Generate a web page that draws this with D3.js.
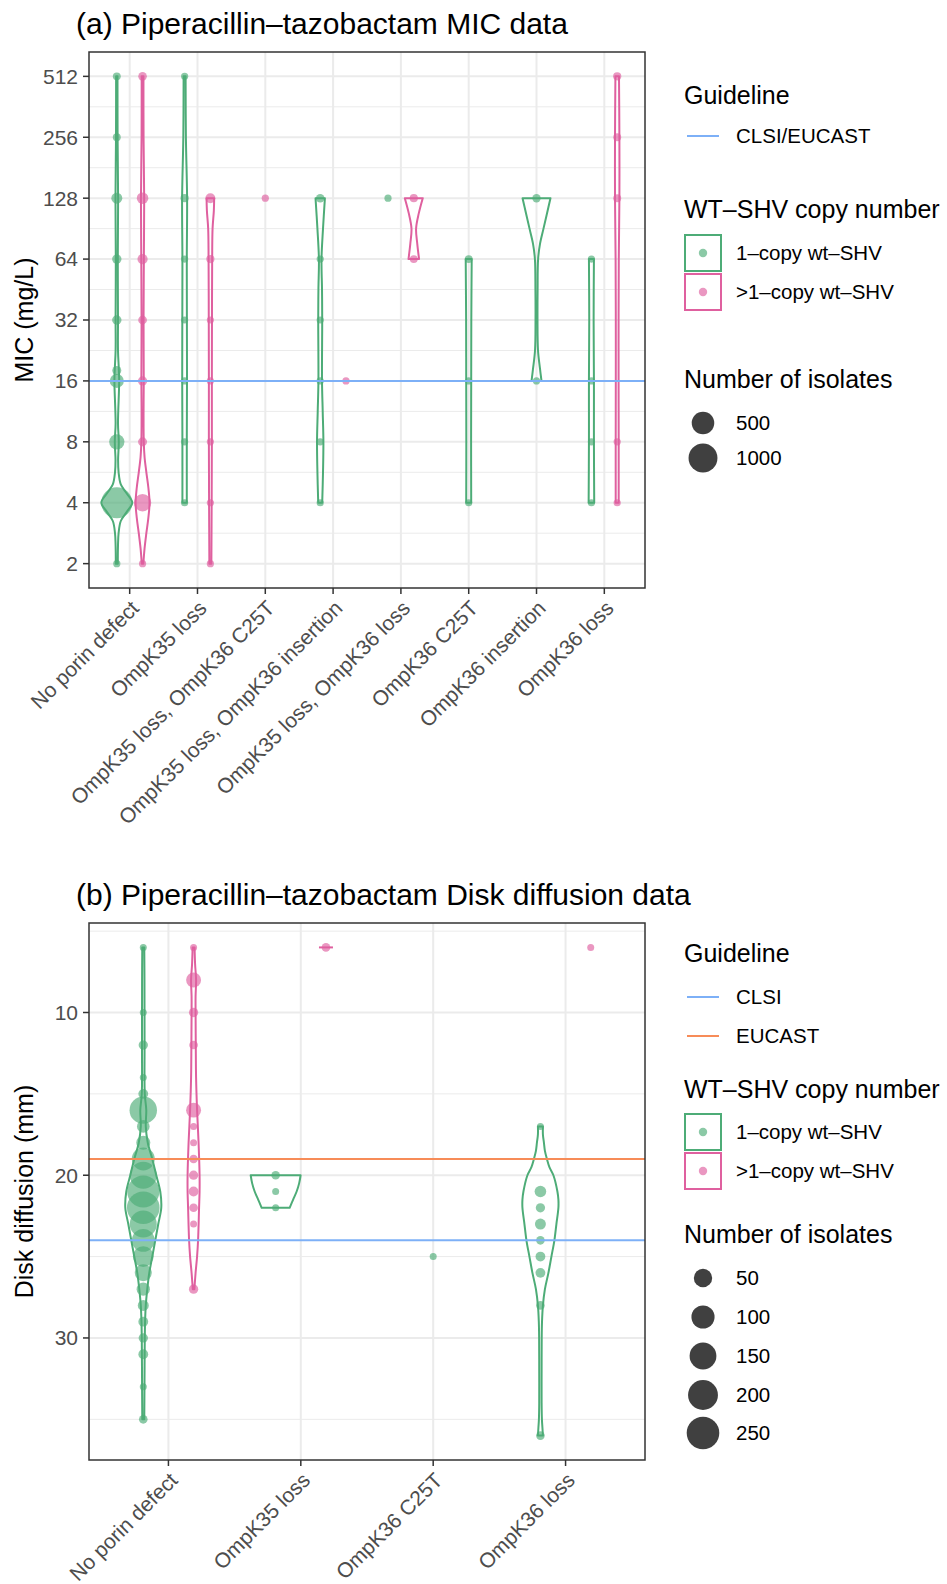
<!DOCTYPE html>
<html>
<head>
<meta charset="utf-8">
<script src="https://cdn.jsdelivr.net/npm/d3@7"></script>
<style>
  body { margin: 0; background: #fff; }
  svg { display: block; font-family: "Liberation Sans", Arial, Helvetica, sans-serif; }
</style>
</head>
<body>
<svg id="chart" width="947" height="1584"></svg>
<script>
'use strict';

// ---------- (a) MIC data ----------
var micCategories = ['No porin defect', 'OmpK35 loss', 'OmpK35 loss, OmpK36 C25T',
  'OmpK35 loss, OmpK36 insertion', 'OmpK35 loss, OmpK36 loss', 'OmpK36 C25T',
  'OmpK36 insertion', 'OmpK36 loss'];
var micTicks = [2, 4, 8, 16, 32, 64, 128, 256, 512];
var micGuidelines = [{ name: 'CLSI/EUCAST', value: 16 }];
var micSizeBreaks = [500, 1000];

// [category index, MIC (mg/L), number of isolates]
var micOneCopy = [
  [0, 2, 1], [0, 4, 1200], [0, 8, 140], [0, 16, 100], [0, 18, 8], [0, 32, 11], [0, 64, 11], [0, 128, 31], [0, 256, 2], [0, 512, 2],
  [1, 4, 1], [1, 8, 1], [1, 16, 1], [1, 32, 1], [1, 64, 1], [1, 128, 3], [1, 512, 1],
  [3, 4, 1], [3, 8, 1], [3, 16, 1], [3, 32, 1], [3, 64, 1], [3, 128, 5],
  [4, 128, 1],
  [5, 4, 1], [5, 16, 1], [5, 64, 2],
  [6, 16, 1], [6, 128, 4],
  [7, 4, 1], [7, 8, 1], [7, 16, 1], [7, 64, 1]
];
var micMultiCopy = [
  [0, 2, 1], [0, 4, 220], [0, 8, 8], [0, 16, 10], [0, 32, 6], [0, 64, 20], [0, 128, 40], [0, 512, 5],
  [1, 2, 1], [1, 4, 1], [1, 8, 1], [1, 16, 1], [1, 32, 1], [1, 64, 3], [1, 128, 17],
  [2, 128, 1],
  [3, 16, 1],
  [4, 64, 2], [4, 128, 3],
  [7, 4, 1], [7, 8, 1], [7, 128, 2], [7, 256, 2], [7, 512, 3]
];

// violin outlines: [log2 MIC, density]
var micViolins = [
  { cat: 0, grp: 'one', dens: [[1, 1], [1.3, 1.2], [1.5, 1.8], [1.7, 4], [1.85, 10], [2, 15.5], [2.15, 10], [2.3, 4], [2.5, 1.8],
    [2.7, 1.3], [3, 2], [3.3, 1.2], [4, 2.4], [4.2, 2], [4.5, 1.2], [5, 1.2], [6, 1], [7, 1.3], [8, 0.8], [9, 0.7]] },
  { cat: 0, grp: 'multi', dens: [[1, 0.8], [1.25, 2], [1.5, 3.8], [1.75, 5.8], [2, 7], [2.25, 5.8], [2.5, 3.8], [2.75, 2],
    [3, 1.2], [3.5, 1], [4, 1.2], [5, 1], [6, 1.3], [7, 1.6], [8, 1], [9, 0.9]] },
  { cat: 1, grp: 'one', dens: [[2, 2.2], [3, 2.2], [4, 2.4], [5, 2.3], [6, 2.2], [7, 2.5], [8, 1.3], [9, 1]] },
  { cat: 1, grp: 'multi', dens: [[1, 1], [2, 1.3], [3, 1.5], [4, 1.5], [5, 1.6], [6, 1.8], [6.5, 2.2], [6.8, 3.5], [7, 3.8]] },
  { cat: 3, grp: 'one', dens: [[2, 2], [2.5, 2.8], [3, 3.2], [3.5, 2.5], [4, 1.8], [5, 2], [5.5, 1.8], [6, 1.3], [6.5, 2.8], [7, 4.7]] },
  { cat: 4, grp: 'multi', dens: [[6, 5.3], [6.25, 3.5], [6.5, 2.3], [6.75, 5], [7, 9]] },
  { cat: 5, grp: 'one', dens: [[2, 2.5], [3, 2.4], [4, 2.5], [5, 2.6], [6, 3]] },
  { cat: 6, grp: 'one', dens: [[4, 5], [4.2, 3.5], [4.5, 1.5], [5, 1], [5.5, 1.1], [6, 1.6], [6.25, 3.5], [6.5, 7], [6.75, 10.5], [7, 14]] },
  { cat: 7, grp: 'one', dens: [[2, 2.8], [3, 2.5], [4, 2.5], [5, 2.2], [6, 2.5]] },
  { cat: 7, grp: 'multi', dens: [[2, 1.5], [3, 1.5], [4, 1.4], [5, 1.4], [6, 1.6], [7, 2.2], [8, 2.2], [9, 1.8]] }
];

// ---------- (b) Disk diffusion data ----------
var diskCategories = ['No porin defect', 'OmpK35 loss', 'OmpK36 C25T', 'OmpK36 loss'];
var diskTicks = [10, 20, 30];
var diskGuidelines = [{ name: 'CLSI', value: 24 }, { name: 'EUCAST', value: 19 }];
var diskSizeBreaks = [50, 100, 150, 200, 250];

// [category index, zone diameter (mm), number of isolates]
var diskOneCopy = [
  [0, 6, 1], [0, 10, 1], [0, 12, 3], [0, 14, 1], [0, 15, 4], [0, 16, 160], [0, 17, 13], [0, 18, 20], [0, 19, 97],
  [0, 20, 153], [0, 21, 240], [0, 22, 250], [0, 23, 153], [0, 24, 96], [0, 25, 73], [0, 26, 39], [0, 27, 16],
  [0, 28, 7], [0, 29, 4], [0, 30, 3], [0, 31, 4], [0, 33, 1], [0, 35, 2],
  [1, 20, 2], [1, 21, 1], [1, 22, 1],
  [2, 25, 1],
  [3, 17, 1], [3, 21, 9], [3, 22, 3], [3, 23, 7], [3, 24, 2], [3, 25, 4], [3, 26, 4], [3, 28, 2], [3, 36, 2]
];
var diskMultiCopy = [
  [0, 6, 1], [0, 8, 25], [0, 10, 3], [0, 12, 2], [0, 16, 25], [0, 17, 1], [0, 18, 1], [0, 19, 2], [0, 20, 3],
  [0, 21, 4], [0, 22, 2], [0, 23, 1], [0, 27, 3],
  [1, 6, 2],
  [3, 6, 1]
];

// violin outlines: [mm, density]
var diskViolins = [
  { cat: 0, grp: 'one', dens: [[6, 1], [8, 1.2], [12, 1.3], [15, 1.5], [16, 3], [17, 2.5], [18, 4.5], [19, 9], [20, 13], [21, 17],
    [22, 18], [23, 15], [24, 12], [25, 9], [26, 6], [27, 4], [28, 2.5], [29, 1.8], [30, 1.5], [33, 1.2], [35, 1]] },
  { cat: 0, grp: 'multi', dens: [[6, 1], [7, 1.5], [8, 2.5], [9, 2], [10, 2], [12, 2.2], [14, 2.5], [16, 3.5], [18, 5], [20, 6],
    [21, 6], [22, 5.5], [24, 4.5], [25, 3.5], [26, 2], [27, 0.8]] },
  { cat: 1, grp: 'one', dens: [[20, 25], [20.5, 23.5], [21, 21], [21.5, 17.5], [22, 14]] },
  { cat: 1, grp: 'multi', dens: [[6, 7]] },
  { cat: 3, grp: 'one', dens: [[17, 2.5], [17.5, 2.5], [18, 3.5], [18.5, 4.5], [19, 6.5], [19.5, 9], [20, 13], [21, 17], [21.5, 18],
    [22, 18], [23, 16], [24, 14], [25, 11], [26, 8], [27, 4.5], [28, 2.5], [29, 1.6], [30, 1.3], [32, 1.2], [34, 1.2],
    [35, 1.5], [35.5, 2], [36, 2.5]] }
];

var groups = [
  { key: 'one', label: '1\u2013copy wt\u2013SHV', color: '#4DAC77' },
  { key: 'multi', label: '>1\u2013copy wt\u2013SHV', color: '#DF609F' }
];
var guideColors = { 'CLSI/EUCAST': '#7DB0F7', 'CLSI': '#7DB0F7', 'EUCAST': '#F78C58' };

var svg = d3.select('#chart');

function drawPanel(o) {
  var g = svg.append('g');
  var box = o.box;

  var x = d3.scalePoint().domain(d3.range(o.categories.length))
    .range([box.left, box.right]).padding(0.6);
  var step = x.step();
  var y = o.yScale.range(o.reversed ? [box.top, box.bottom] : [box.bottom, box.top]);

  var points = o.oneCopy.map(function(d) { return { cat: d[0], v: d[1], n: d[2], grp: 'one' }; })
    .concat(o.multiCopy.map(function(d) { return { cat: d[0], v: d[1], n: d[2], grp: 'multi' }; }));

  var maxN = d3.max(points, function(d) { return d.n; });
  var size = d3.scaleSqrt().domain([0, maxN - 1]).range(o.sizeRange);
  var width = d3.scaleLinear().domain([0, o.densMax]).range([0, o.widthFrac * step]);

  // dodge only where both copy-number groups are present
  var present = d3.rollup(points, function(v) { return new Set(v.map(function(d) { return d.grp; })).size; },
    function(d) { return d.cat; });
  function cx(cat, grp) {
    if (present.get(cat) < 2) return x(cat);
    return x(cat) + (grp === 'one' ? -0.19 : 0.19) * step;
  }
  function color(grp) { return grp === 'one' ? groups[0].color : groups[1].color; }

  // panel + grid
  g.append('rect').attr('x', box.left).attr('y', box.top)
    .attr('width', box.right - box.left).attr('height', box.bottom - box.top).attr('fill', '#fff');

  g.selectAll('.minor').data(o.minor).enter().append('line')
    .attr('x1', box.left).attr('x2', box.right)
    .attr('y1', function(d) { return y(d); }).attr('y2', function(d) { return y(d); })
    .attr('stroke', '#EBEBEB').attr('stroke-width', 1);
  g.selectAll('.major').data(o.ticks).enter().append('line')
    .attr('x1', box.left).attr('x2', box.right)
    .attr('y1', function(d) { return y(d); }).attr('y2', function(d) { return y(d); })
    .attr('stroke', '#EBEBEB').attr('stroke-width', 2);
  g.selectAll('.vmajor').data(x.domain()).enter().append('line')
    .attr('x1', function(d) { return x(d); }).attr('x2', function(d) { return x(d); })
    .attr('y1', box.top).attr('y2', box.bottom)
    .attr('stroke', '#EBEBEB').attr('stroke-width', 2);

  // violins
  o.violins.forEach(function(vl) {
    var c = cx(vl.cat, vl.grp);
    if (vl.dens.length === 1) {
      var p = vl.dens[0];
      g.append('line')
        .attr('x1', c - width(p[1])).attr('x2', c + width(p[1]))
        .attr('y1', y(o.violinValue(p[0]))).attr('y2', y(o.violinValue(p[0])))
        .attr('stroke', color(vl.grp)).attr('stroke-width', 2);
      return;
    }
    var area = d3.area()
      .curve(d3.curveCatmullRom.alpha(0.5))
      .y(function(p) { return y(o.violinValue(p[0])); })
      .x0(function(p) { return c - width(p[1]); })
      .x1(function(p) { return c + width(p[1]); });
    g.append('path').datum(vl.dens)
      .attr('d', area)
      .attr('fill', 'none')
      .attr('stroke', color(vl.grp))
      .attr('stroke-width', 2)
      .attr('stroke-linejoin', 'round');
  });

  // points, biggest first
  g.selectAll('.pt').data(points.slice().sort(function(a, b) { return b.n - a.n; }))
    .enter().append('circle')
    .attr('cx', function(d) { return cx(d.cat, d.grp); })
    .attr('cy', function(d) { return y(d.v); })
    .attr('r', function(d) { return size(d.n - 1); })
    .attr('fill', function(d) { return color(d.grp); })
    .attr('fill-opacity', 0.65);

  // guidelines
  g.selectAll('.guide').data(o.guidelines).enter().append('line')
    .attr('x1', box.left).attr('x2', box.right)
    .attr('y1', function(d) { return y(d.value); }).attr('y2', function(d) { return y(d.value); })
    .attr('stroke', function(d) { return guideColors[d.name]; })
    .attr('stroke-width', 2);

  // frame
  g.append('rect').attr('x', box.left).attr('y', box.top)
    .attr('width', box.right - box.left).attr('height', box.bottom - box.top)
    .attr('fill', 'none').attr('stroke', '#333333').attr('stroke-width', 1.5);

  // y axis
  var yt = g.selectAll('.ytick').data(o.ticks).enter().append('g')
    .attr('transform', function(d) { return 'translate(0,' + y(d) + ')'; });
  yt.append('line').attr('x1', box.left - 6).attr('x2', box.left)
    .attr('stroke', '#333333').attr('stroke-width', 1.5);
  yt.append('text').attr('x', box.left - 11).attr('dy', '0.35em')
    .attr('text-anchor', 'end').attr('font-size', 21).attr('fill', '#4D4D4D')
    .text(function(d) { return d; });

  // x axis
  var xt = g.selectAll('.xtick').data(x.domain()).enter().append('g')
    .attr('transform', function(d) { return 'translate(' + x(d) + ',' + box.bottom + ')'; });
  xt.append('line').attr('y1', 0).attr('y2', 6)
    .attr('stroke', '#333333').attr('stroke-width', 1.5);
  xt.append('text')
    .attr('transform', 'translate(0,11) rotate(-45)')
    .attr('dy', '0.71em')
    .attr('text-anchor', 'end').attr('font-size', 21).attr('fill', '#4D4D4D')
    .text(function(d) { return o.categories[d]; });

  // titles
  g.append('text').attr('x', 76).attr('y', o.titleY)
    .attr('font-size', 30).attr('fill', '#000').text(o.title);
  g.append('text')
    .attr('transform', 'translate(33,' + (box.top + box.bottom) / 2 + ') rotate(-90)')
    .attr('text-anchor', 'middle').attr('font-size', 25).attr('fill', '#000')
    .text(o.yTitle);

  // legend
  var lg = svg.append('g').attr('transform', 'translate(684,0)');
  var L = o.legend;
  lg.append('text').attr('y', L.guideTitle).attr('font-size', 25).text('Guideline');
  o.guidelines.slice().sort(function(a, b) { return a.name.localeCompare(b.name); }).forEach(function(gl, i) {
    var cy = L.guideRows[i];
    lg.append('line').attr('x1', 3).attr('x2', 35).attr('y1', cy).attr('y2', cy)
      .attr('stroke', guideColors[gl.name]).attr('stroke-width', 2);
    lg.append('text').attr('x', 52).attr('y', cy).attr('dy', '0.35em')
      .attr('font-size', 20.5).text(gl.name);
  });

  lg.append('text').attr('y', L.groupTitle).attr('font-size', 25).text('WT\u2013SHV copy number');
  groups.forEach(function(gr, i) {
    var cy = L.groupRows[i];
    lg.append('rect').attr('x', 1).attr('y', cy - 18).attr('width', 36).attr('height', 36)
      .attr('fill', '#fff').attr('stroke', gr.color).attr('stroke-width', 2);
    lg.append('circle').attr('cx', 19).attr('cy', cy).attr('r', 4.2)
      .attr('fill', gr.color).attr('fill-opacity', 0.65);
    lg.append('text').attr('x', 52).attr('y', cy).attr('dy', '0.35em')
      .attr('font-size', 20.5).text(gr.label);
  });

  lg.append('text').attr('y', L.sizeTitle).attr('font-size', 25).text('Number of isolates');
  o.sizeBreaks.forEach(function(b, i) {
    var cy = L.sizeRows[i];
    lg.append('circle').attr('cx', 19).attr('cy', cy).attr('r', size(b - 1))
      .attr('fill', '#000').attr('fill-opacity', 0.75);
    lg.append('text').attr('x', 52).attr('y', cy).attr('dy', '0.35em')
      .attr('font-size', 20.5).text(b);
  });
}

// log2 axis with 5% expansion of the data range
var micExp = d3.extent(micOneCopy.concat(micMultiCopy), function(d) { return Math.log2(d[1]); });
var micPad = (micExp[1] - micExp[0]) * 0.05;

drawPanel({
  box: { left: 89, right: 645, top: 52, bottom: 588 },
  title: '(a) Piperacillin\u2013tazobactam MIC data',
  titleY: 34,
  yTitle: 'MIC (mg/L)',
  categories: micCategories,
  yScale: d3.scaleLog().base(2).domain([Math.pow(2, micExp[0] - micPad), Math.pow(2, micExp[1] + micPad)]),
  reversed: false,
  ticks: micTicks,
  minor: micTicks.slice(1).map(function(t) { return t / Math.SQRT2; }),
  oneCopy: micOneCopy,
  multiCopy: micMultiCopy,
  violins: micViolins,
  violinValue: function(e) { return Math.pow(2, e); },
  densMax: 17,
  widthFrac: 0.25,
  sizeRange: [3.6, 15.5],
  guidelines: micGuidelines,
  sizeBreaks: micSizeBreaks,
  legend: { guideTitle: 104, guideRows: [136], groupTitle: 218, groupRows: [253, 292], sizeTitle: 388, sizeRows: [423, 458] }
});

var diskExt = d3.extent(diskOneCopy.concat(diskMultiCopy), function(d) { return d[1]; });
var diskPad = (diskExt[1] - diskExt[0]) * 0.05;

drawPanel({
  box: { left: 89, right: 645, top: 923, bottom: 1460 },
  title: '(b) Piperacillin\u2013tazobactam Disk diffusion data',
  titleY: 905,
  yTitle: 'Disk diffusion (mm)',
  categories: diskCategories,
  yScale: d3.scaleLinear().domain([diskExt[0] - diskPad, diskExt[1] + diskPad]),
  reversed: true,
  ticks: diskTicks,
  minor: [5, 15, 25, 35],
  oneCopy: diskOneCopy,
  multiCopy: diskMultiCopy,
  violins: diskViolins,
  violinValue: function(v) { return v; },
  densMax: 26.5,
  widthFrac: 0.2,
  sizeRange: [3.5, 16.3],
  guidelines: diskGuidelines,
  sizeBreaks: diskSizeBreaks,
  legend: { guideTitle: 962, guideRows: [997, 1036], groupTitle: 1098, groupRows: [1132, 1171], sizeTitle: 1243,
    sizeRows: [1278, 1317, 1356, 1395, 1433] }
});
</script>
</body>
</html>
